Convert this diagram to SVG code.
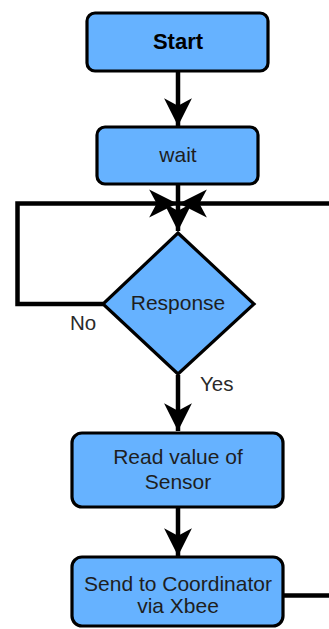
<svg xmlns="http://www.w3.org/2000/svg" width="329" height="629" viewBox="0 0 329 629">
  <style>
    .box { fill: #66b2ff; stroke: #000; stroke-width: 3.2; }
    .lbl { font-family: "Liberation Sans", Arial, sans-serif; font-size: 21px; fill: #1e1e1e; text-anchor: middle; }
    .edge { fill: none; stroke: #000; stroke-width: 4.5; stroke-linejoin: miter; }
    .tag { font-family: "Liberation Sans", Arial, sans-serif; font-size: 20.5px; fill: #2a2a2a; }
  </style>
  <defs>
    <marker id="arrow" markerUnits="userSpaceOnUse" markerWidth="30" markerHeight="30" viewBox="-27 -14 28 28" refX="0" refY="0" orient="auto">
      <path d="M0,0 L-26,-13 L-19,0 L-26,13 Z" fill="#000"/>
    </marker>
  </defs>
  <rect width="329" height="629" fill="#fff"/>

  <!-- connectors -->
  <g id="connectors">
    <path class="edge" d="M178,72 L178,126" marker-end="url(#arrow)"/>
    <path class="edge" d="M178,184 L178,231" marker-end="url(#arrow)"/>
    <path class="edge" d="M103,304 L17.5,304 L17.5,203.5 L177,203.5" marker-end="url(#arrow)"/>
    <path class="edge" d="M340,203.5 L179,203.5" marker-end="url(#arrow)"/>
    <path class="edge" d="M178,375 L178,431" marker-end="url(#arrow)"/>
    <path class="edge" d="M178,507 L178,556" marker-end="url(#arrow)"/>
    <path class="edge" d="M283,595.5 L340,595.5"/>
    <text class="tag" x="70" y="330">No</text>
    <text class="tag" x="200" y="391">Yes</text>
  </g>

  <!-- nodes -->
  <g id="start">
    <rect class="box" x="87" y="13" width="181" height="58" rx="8"/>
    <text class="lbl" x="178" y="49" style="font-weight:bold;font-size:22px;fill:#000">Start</text>
  </g>
  <g id="wait">
    <rect class="box" x="97" y="127" width="161" height="57" rx="8"/>
    <text class="lbl" x="178" y="162">wait</text>
  </g>
  <g id="response">
    <polygon class="box" points="178,233 254,304 178,374 103,304"/>
    <text class="lbl" x="178" y="310">Response</text>
  </g>
  <g id="read">
    <rect class="box" x="72" y="433" width="211" height="74" rx="10"/>
    <text class="lbl" x="178" y="464">Read value of</text>
    <text class="lbl" x="178" y="489">Sensor</text>
  </g>
  <g id="send">
    <rect class="box" x="72" y="557" width="211" height="69" rx="10"/>
    <text class="lbl" x="178" y="591">Send to Coordinator</text>
    <text class="lbl" x="178" y="613">via Xbee</text>
  </g>
</svg>
